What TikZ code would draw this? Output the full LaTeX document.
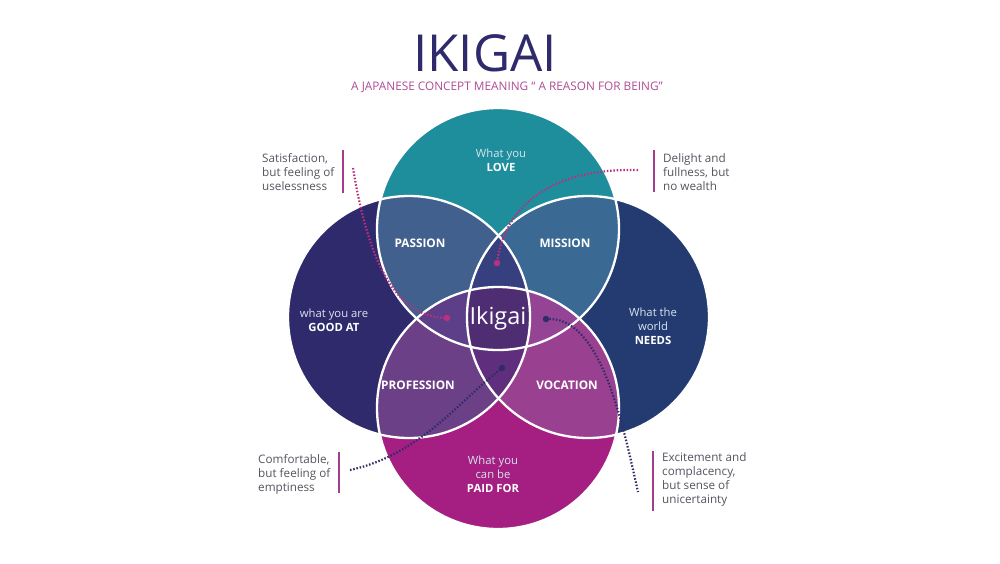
\documentclass[tikz,border=0pt]{standalone}
\usepackage{fontspec}
\setmainfont{Open Sans}
\definecolor{cT}{HTML}{1F8E9C}
\definecolor{cL}{HTML}{2F2A6C}
\definecolor{cR}{HTML}{243B72}
\definecolor{cB}{HTML}{A51E82}
\definecolor{cTL}{HTML}{42608E}
\definecolor{cTR}{HTML}{3A6993}
\definecolor{cLB}{HTML}{6B4086}
\definecolor{cRB}{HTML}{9A4090}
\definecolor{cTLR}{HTML}{36407F}
\definecolor{cTLB}{HTML}{5C3F88}
\definecolor{cTRB}{HTML}{934494}
\definecolor{cLRB}{HTML}{5F2F7E}
\definecolor{cAll}{HTML}{4F2D73}
\definecolor{titlec}{HTML}{2E2A6B}
\definecolor{subc}{HTML}{B04C94}
\definecolor{barc}{HTML}{A63C8C}
\definecolor{greyt}{HTML}{555560}
\definecolor{lightt}{HTML}{D6E6EE}
\definecolor{dotm}{HTML}{B8307F}
\definecolor{dotn}{HTML}{302C68}
\tikzset{
  sidetext/.style={anchor=west,align=left,text=greyt,inner sep=0pt,font=\fontsize{11.7}{14}\selectfont},
  sidebar/.style={draw=barc,line width=2pt},
  intext/.style={align=center,text=white,inner sep=0pt,font=\fontsize{11.3}{14}\selectfont},
  areatext/.style={text=white,inner sep=0pt,font=\fontsize{11.8}{14}\selectfont\bfseries},
  dotline/.style={line width=2.2pt,dash pattern=on 1.5pt off 1.8pt},
  enddot/.style={circle,inner sep=0pt,minimum size=6.5pt},
  ring/.style={draw=white,line width=2.3pt}
}
\def\cirT{(498,229) circle [radius=121pt]}
\def\cirB{(498,408) circle [radius=121pt]}
\def\cirL{(409,317) circle [radius=121pt]}
\def\cirR{(588,317) circle [radius=121pt]}
\begin{document}
\begin{tikzpicture}[x=1pt,y=-1pt]
\useasboundingbox (0,0) rectangle (1000,563);
\fill[white] (0,0) rectangle (1000,563);
% single regions
\fill[cT] \cirT; \fill[cL] \cirL; \fill[cR] \cirR; \fill[cB] \cirB;
% pairs
\begin{scope}\clip \cirT; \fill[cTL] \cirL; \fill[cTR] \cirR; \fill[cAll] \cirB; \end{scope}
\begin{scope}\clip \cirB; \fill[cLB] \cirL; \fill[cRB] \cirR; \end{scope}
\begin{scope}\clip \cirL; \fill[cAll] \cirR; \end{scope}
% triples
\begin{scope}\clip \cirT; \clip \cirL; \fill[cTLR] \cirR; \end{scope}
\begin{scope}\clip \cirT; \clip \cirL; \fill[cTLB] \cirB; \end{scope}
\begin{scope}\clip \cirT; \clip \cirR; \fill[cTRB] \cirB; \end{scope}
\begin{scope}\clip \cirL; \clip \cirR; \fill[cLRB] \cirB; \end{scope}
% all four
\begin{scope}\clip \cirT; \clip \cirL; \clip \cirR; \fill[cAll] \cirB; \end{scope}
% outlines
\draw[ring] \cirT; \draw[ring] \cirL; \draw[ring] \cirR; \draw[ring] \cirB;

% title
\node[text=titlec,inner sep=0pt,font=\fontsize{51}{51}\selectfont] (title) at (485,53) {IKIGAI};
\node[text=subc,inner sep=0pt,font=\fontsize{11.8}{13}\selectfont] (subtitle) at (507,87) {A JAPANESE CONCEPT MEANING “ A REASON FOR BEING”};

% circle texts
\node[intext] (love) at (501,160) {\textcolor{lightt}{What you}\\\textbf{LOVE}};
\node[intext] (goodat) at (334,320) {\textcolor{lightt}{what you are}\\\textbf{GOOD AT}};
\node[intext] (needs) at (653,326) {\textcolor{lightt}{What the}\\\textcolor{lightt}{world}\\\textbf{NEEDS}};
\node[intext] (paid) at (493,474) {\textcolor{lightt}{What you}\\\textcolor{lightt}{can be}\\\textbf{PAID FOR}};
\node[areatext] (passion) at (420,243) {PASSION};
\node[areatext] (mission) at (565,243) {MISSION};
\node[areatext] (profession) at (418,385) {PROFESSION};
\node[areatext] (vocation) at (567,385) {VOCATION};
\node[text=white,inner sep=0pt,font=\fontsize{23.5}{23.5}\selectfont] (ikigai) at (498,318) {Ikigai};

% side texts and bars
\node[sidetext] (satis) at (262,172) {Satisfaction,\\but feeling of\\uselessness};
\draw[sidebar] (343,150) -- (343,193);
\node[sidetext] (delight) at (663,172) {Delight and\\fullness, but\\no wealth};
\draw[sidebar] (654,150) -- (654,192);
\node[sidetext] (comfort) at (258,474) {Comfortable,\\but feeling of\\emptiness};
\draw[sidebar] (339,452) -- (339,493);
\node[sidetext] (excite) at (662,479) {Excitement and\\complacency,\\but sense of\\unicertainty};
\draw[sidebar] (653,451) -- (653,511);

% dots and dotted connectors
\node[enddot,fill=dotm] (d1) at (447,318) {};
\node[enddot,fill=dotm] (d2) at (497,263) {};
\node[enddot,fill=dotn] (d3) at (502,368) {};
\node[enddot,fill=dotn] (d4) at (546,319) {};
\coordinate (s1) at (353,168);
\coordinate (s2) at (638,170);
\coordinate (s3) at (350,470);
\coordinate (s4) at (638,492);
\draw[dotline,draw=dotm] (s1) .. controls (368,260) and (395,318) .. (d1.center);
\draw[dotline,draw=dotm] (s2) .. controls (560,168) and (505,200) .. (d2.center);
\draw[dotline,draw=dotn] (s3) .. controls (420,455) and (460,400) .. (d3.center);
\draw[dotline,draw=dotn] (d4.center) .. controls (600,315) and (622,420) .. (s4);
\end{tikzpicture}
\end{document}
